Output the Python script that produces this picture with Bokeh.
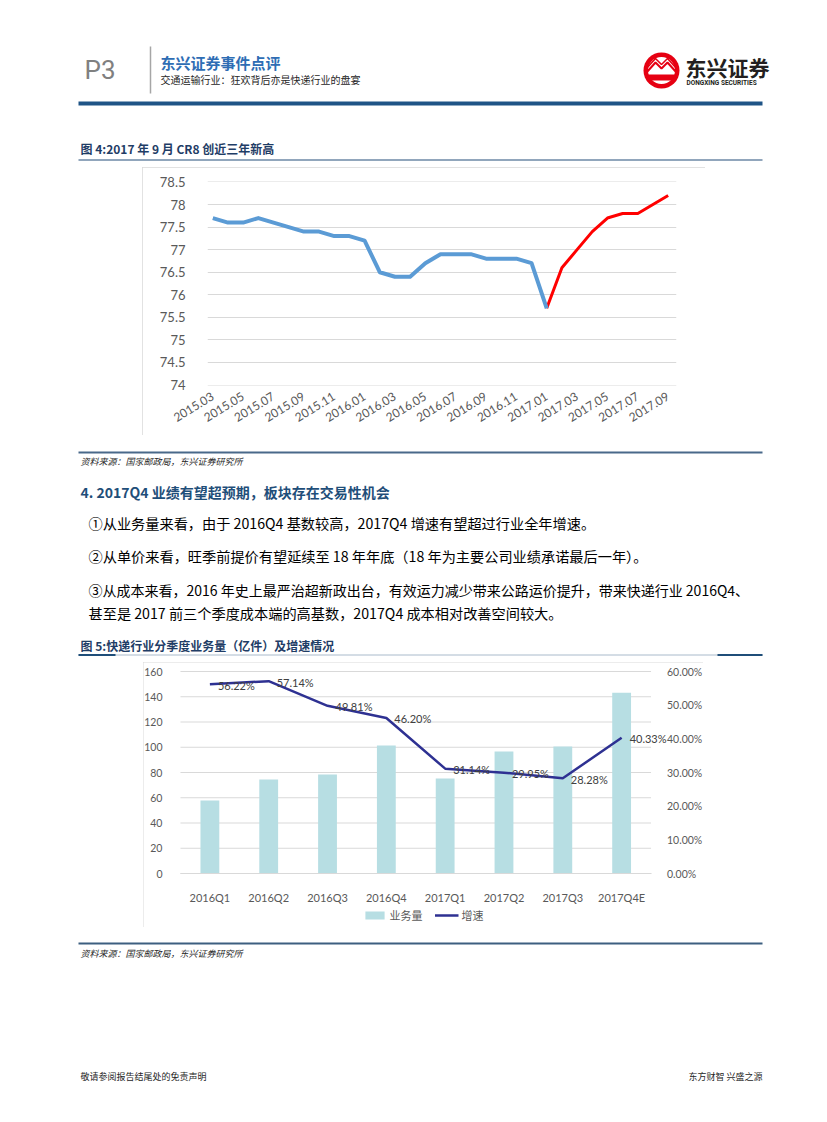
from bokeh.plotting import figure
from bokeh.models import (Range1d, LinearAxis, FixedTicker, NumeralTickFormatter,
                          Legend, LegendItem, ColumnDataSource, LabelSet)
from bokeh.layouts import column
from bokeh.core.properties import value
from bokeh.embed import file_html
from bokeh.resources import INLINE

# ---------------- data ----------------
months = ["2015.03", "2015.04", "2015.05", "2015.06", "2015.07", "2015.08", "2015.09", "2015.10",
          "2015.11", "2015.12", "2016.01", "2016.02", "2016.03", "2016.04", "2016.05", "2016.06",
          "2016.07", "2016.08", "2016.09", "2016.10", "2016.11", "2016.12", "2017.01", "2017.02",
          "2017.03", "2017.04", "2017.05", "2017.06", "2017.07", "2017.08", "2017.09"]
cr8 = [77.7, 77.6, 77.6, 77.7, 77.6, 77.5, 77.4, 77.4, 77.3, 77.3, 77.2, 76.5, 76.4, 76.4, 76.7, 76.9,
       76.9, 76.9, 76.8, 76.8, 76.8, 76.7, 75.7, 76.6, 77.0, 77.4, 77.7, 77.8, 77.8, 78.0, 78.2]
highlight_from = "2017.01"
cr8_yticks = [74, 74.5, 75, 75.5, 76, 76.5, 77, 77.5, 78, 78.5]

quarters = ["2016Q1", "2016Q2", "2016Q3", "2016Q4", "2017Q1", "2017Q2", "2017Q3", "2017Q4E"]
volume = [57.8, 74.5, 78.4, 101.4, 75.2, 96.6, 100.6, 143.1]
growth = [56.22, 57.14, 49.81, 46.20, 31.14, 29.95, 28.28, 40.33]
vol_ticks = [0, 20, 40, 60, 80, 100, 120, 140, 160]
pct_ticks = [0, 0.1, 0.2, 0.3, 0.4, 0.5, 0.6]
series_names = ["业务量", "增速"]

CJK = "Noto Sans CJK SC"
NUM = "Lato"
PAGE_W = 811


# ---------------- helpers ----------------
def section(top, height):
    p = figure(frame_width=PAGE_W, frame_height=height, x_range=Range1d(8, 8 + PAGE_W),
               y_range=Range1d(top + height, top), x_axis_type=None, y_axis_type=None,
               toolbar_location=None, output_backend="svg", min_border=0,
               min_border_left=0, min_border_right=0, min_border_top=0, min_border_bottom=0,
               frame_align=False)
    p.outline_line_color = None
    return p


def txt(p, x, y, s, size, color="#000000", font=CJK, style="normal", align="left"):
    p.text(x=[x], y=[y], text=[s], text_font=value(font), text_font_size=f"{size}px",
           text_color=color, text_font_style=style, text_align=align, text_baseline="middle")


def hline(p, x0, x1, y, color, width):
    p.segment(x0=[x0], y0=[y], x1=[x1], y1=[y], line_color=color, line_width=width)


def plain_axis(ax, size, standoff):
    ax.axis_line_color = None
    ax.major_tick_line_color = None
    ax.minor_tick_line_color = None
    ax.major_label_text_font = NUM
    ax.major_label_text_font_size = size
    ax.major_label_text_color = "#595959"
    ax.major_label_standoff = standoff


# ---------------- section A: header ----------------
A = section(8, 159)
txt(A, 84, 69, "P3", 26, "#808080", font="Roboto")
A.segment(x0=[150], y0=[46], x1=[150], y1=[93], line_color="#a6a6a6", line_width=1.5)
txt(A, 160, 62, "东兴证券事件点评", 15, "#2e6db4", style="bold")
txt(A, 160, 79, "交通运输行业：狂欢背后亦是快递行业的盘宴", 10, "#262626")
# logo
A.circle(x=[661], y=[70], radius=18, fill_color="#e60012", line_color=None)
A.circle(x=[661], y=[70], radius=13.5, fill_color="#ffffff", line_color=None)
A.patch(x=[647, 675, 675, 647], y=[74, 74, 80, 80], fill_color="#e60012", line_color=None)
A.line(x=[646, 655, 661, 667, 676], y=[72, 62, 68, 62, 72], line_color="#e60012", line_width=2)
A.line(x=[646, 655, 661, 667, 676], y=[68, 58, 64, 58, 68], line_color="#e60012", line_width=1.5)
txt(A, 685, 66, "东兴证券", 21, "#231f20", style="bold")
txt(A, 686, 82, "DONGXING SECURITIES", 6.5, "#231f20", font="Roboto", style="bold")
hline(A, 78, 762, 103, "#1f5486", 4)
txt(A, 80, 148, "图 4:2017 年 9 月 CR8 创近三年新高", 12, "#1f3d66", style="bold")
hline(A, 78, 762, 159.5, "#6c89a6", 1.5)

# ---------------- chart 1 ----------------
c1 = figure(frame_width=469, frame_height=204, x_range=Range1d(-0.35, len(months) - 0.45),
            y_range=Range1d(73.99, 78.51), toolbar_location=None, output_backend="svg",
            min_border_left=65, min_border_right=29, min_border_top=14, min_border_bottom=50,
            frame_align=False)
c1.outline_line_color = None
c1.margin = (0, 0, 0, 134)
c1.styles = {"outline": "1px solid #d9d9d9", "outline-offset": "-1px"}
idx = list(range(len(months)))
split = months.index(highlight_from)
c1.line(idx[split:], cr8[split:], line_color="#ff0000", line_width=3, line_join="round")
c1.line(idx[:split + 1], cr8[:split + 1], line_color="#5b9bd5", line_width=4, line_join="round")
xt = list(range(0, len(months), 2))
c1.xaxis.ticker = FixedTicker(ticks=xt)
c1.xaxis.major_label_overrides = {i: months[i] for i in xt}
c1.xaxis.major_label_orientation = 0.55
plain_axis(c1.xaxis[0], "12px", 4)
c1.yaxis.ticker = FixedTicker(ticks=cr8_yticks)
c1.yaxis.formatter = NumeralTickFormatter(format="0.[0]")
plain_axis(c1.yaxis[0], "13px", 16)
c1.xgrid.visible = False
c1.ygrid.grid_line_color = "#d9d9d9"

# ---------------- section C: text ----------------
C = section(435, 227)
hline(C, 78, 762, 452, "#49698a", 2)
txt(C, 80, 461, "资料来源：国家邮政局，东兴证券研究所", 9, "#262626", style="italic")
txt(C, 80, 491, "4. 2017Q4 业绩有望超预期，板块存在交易性机会", 14, "#1f4e79", style="bold")
txt(C, 88, 522, "①从业务量来看，由于 2016Q4 基数较高，2017Q4 增速有望超过行业全年增速。", 14.2)
txt(C, 88, 555, "②从单价来看，旺季前提价有望延续至 18 年年底（18 年为主要公司业绩承诺最后一年）。", 14.2)
txt(C, 88, 589, "③从成本来看，2016 年史上最严治超新政出台，有效运力减少带来公路运价提升，带来快递行业 2016Q4、", 14)
txt(C, 88, 612, "甚至是 2017 前三个季度成本端的高基数，2017Q4 成本相对改善空间较大。", 14.2)
txt(C, 80, 645, "图 5:快递行业分季度业务量（亿件）及增速情况", 12, "#1f3d66", style="bold")
hline(C, 78, 762, 654.5, "#a9bacb", 1)
hline(C, 78, 115, 654.5, "#1f4e79", 2)
hline(C, 717, 762, 654.5, "#1f4e79", 2)

# ---------------- chart 2 ----------------
# frame = whole chart box (143..703 x 662..927); axes pinned with fixed_location
CAT_PX = 58.86            # pixels per category
UNIT_PX = 202 / 160       # pixels per 1 (亿件)
n = len(quarters)
xs = list(range(n))
x_lo = -0.5 - 37 / CAT_PX
x_hi = n - 0.5 + 52.5 / CAT_PX
y_lo = -54 / UNIT_PX
y_hi = 160 + 9 / UNIT_PX
pct_per_unit = pct_ticks[-1] / vol_ticks[-1]
c2 = figure(frame_width=560, frame_height=265, x_range=Range1d(x_lo, x_hi),
            y_range=Range1d(y_lo, y_hi), toolbar_location=None, output_backend="svg",
            min_border=0, min_border_left=0, min_border_right=0, min_border_top=0,
            min_border_bottom=0, frame_align=False)
c2.outline_line_color = None
c2.margin = (0, 0, 0, 135)
c2.styles = {"outline": "1px solid #d9d9d9", "outline-offset": "-1px"}
c2.extra_y_ranges = {"pct": Range1d(y_lo * pct_per_unit, y_hi * pct_per_unit)}
c2.xgrid.visible = False
c2.ygrid.visible = False
c2.segment(x0=[-0.5] * len(vol_ticks), x1=[n - 0.5] * len(vol_ticks), y0=vol_ticks, y1=vol_ticks,
           line_color="#d9d9d9", line_width=1)
bars = c2.vbar(x=xs, top=volume, width=0.32, fill_color="#b7dee3", line_color=None)
gsrc = ColumnDataSource(dict(q=xs, g=[v / 100 for v in growth],
                             lbl=[f"{v:.2f}%" for v in growth]))
ln = c2.line(x="q", y="g", source=gsrc, y_range_name="pct", line_color="#2e3192", line_width=2.5)
c2.add_layout(LabelSet(x="q", y="g", text="lbl", source=gsrc, y_range_name="pct", x_offset=8,
                       y_offset=-1, text_baseline="middle", text_font=value(NUM),
                       text_font_size="11px", text_color="#404040"))
# x axis pinned at 0
c2.xaxis.ticker = FixedTicker(ticks=xs)
c2.xaxis.major_label_overrides = {i: q for i, q in zip(xs, quarters)}
plain_axis(c2.xaxis[0], "11px", 11)
c2.xaxis.axis_line_color = "#d9d9d9"
c2.xaxis.fixed_location = 0
c2.xaxis.bounds = (-0.5, n - 0.5)
# left axis
c2.yaxis.ticker = FixedTicker(ticks=vol_ticks)
plain_axis(c2.yaxis[0], "10.5px", 12)
c2.yaxis.fixed_location = -0.5
# right axis
ra = LinearAxis(y_range_name="pct", ticker=FixedTicker(ticks=pct_ticks),
                formatter=NumeralTickFormatter(format="0.00%"))
plain_axis(ra, "10.5px", 10)
ra.fixed_location = n - 0.5
c2.add_layout(ra, "right")
leg = Legend(items=[LegendItem(label=series_names[0], renderers=[bars]),
                    LegendItem(label=series_names[1], renderers=[ln])],
             orientation="horizontal", location="bottom_center", glyph_width=24, glyph_height=10,
             label_text_font=CJK, label_text_font_size="11px", label_text_color="#595959",
             border_line_color=None, background_fill_alpha=0, spacing=12, padding=2, margin=4,
             label_standoff=3)
c2.add_layout(leg, "center")

# ---------------- section E: footer ----------------
E = section(927, 187)
hline(E, 78, 762, 943, "#3d5f80", 2)
txt(E, 80, 953, "资料来源：国家邮政局，东兴证券研究所", 9, "#262626", style="italic")
txt(E, 80, 1076, "敬请参阅报告结尾处的免责声明", 9, "#262626")
txt(E, 762, 1076, "东方财智 兴盛之源", 9, "#262626", align="right")

page = column(A, c1, C, c2, E, margin=(8, 0, 0, 8))
open("out.html", "w").write(file_html(page, INLINE, title="P3"))
